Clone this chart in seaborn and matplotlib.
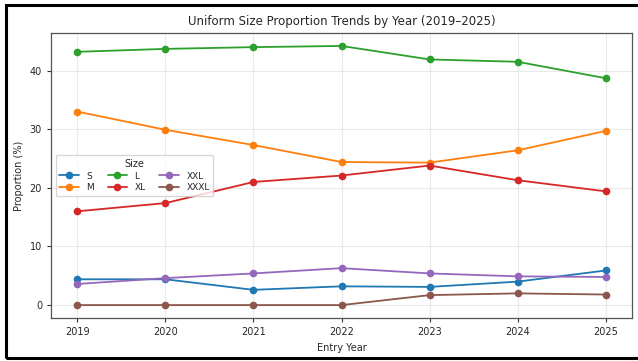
import matplotlib
matplotlib.use("Agg")
import matplotlib.pyplot as plt
import matplotlib.patches as mpatches
import seaborn as sns
import pandas as pd

years = [2019, 2020, 2021, 2022, 2023, 2024, 2025]
sizes = ["S", "M", "L", "XL", "XXL", "XXXL"]
s_vals = [4.4, 4.4, 2.6, 3.2, 3.1, 4.0, 5.9]
m_vals = [33.0, 29.9, 27.3, 24.4, 24.3, 26.4, 29.7]
l_vals = [43.2, 43.7, 44.0, 44.2, 41.9, 41.5, 38.7]
xl_vals = [16.0, 17.4, 21.0, 22.1, 23.8, 21.3, 19.4]
xxl_vals = [3.6, 4.6, 5.4, 6.3, 5.4, 4.9, 4.8]
xxxl_vals = [0.0, 0.0, 0.0, 0.0, 1.7, 2.0, 1.8]

series = dict(zip(sizes, [s_vals, m_vals, l_vals, xl_vals, xxl_vals, xxxl_vals]))
rows = []
for sz in sizes:
    for y, v in zip(years, series[sz]):
        rows.append({"Entry Year": y, "Proportion (%)": v, "Size": sz})
df = pd.DataFrame(rows)

sns.set_style("whitegrid")
fig, ax = plt.subplots(figsize=(6.38, 3.61), dpi=100)
fig.subplots_adjust(left=0.080, right=0.9906, bottom=0.119, top=0.9086)

sns.lineplot(data=df, x="Entry Year", y="Proportion (%)", hue="Size",
             hue_order=sizes, palette="tab10", marker="o", markersize=5.5,
             markeredgewidth=0, linewidth=1.3, ax=ax)

ax.set_title("Uniform Size Proportion Trends by Year (2019–2025)", fontsize=8.5, pad=6)
ax.set_xlabel("Entry Year", fontsize=7)
ax.set_ylabel("Proportion (%)", fontsize=7)
ax.set_xticks(years)
ax.tick_params(axis="both", labelsize=7, length=3, color="#333333", left=True, bottom=True)
ax.grid(True, color="#dddddd", alpha=0.6, linewidth=0.8)
for sp in ax.spines.values():
    sp.set_color("#555555")
    sp.set_linewidth(0.9)

leg = ax.legend(title="Size", ncol=3, loc="center left", fontsize=6.5,
                title_fontsize=7, frameon=True, handlelength=2.2,
                columnspacing=1.5, borderpad=0.4, labelspacing=0.3)

fig.patches.append(mpatches.Rectangle((0.0094, 0.0083), 1.1, 0.9777,
                                      transform=fig.transFigure, fill=False,
                                      edgecolor="black", linewidth=2.2,
                                      clip_on=False))

fig.savefig("out.png", dpi=100)
